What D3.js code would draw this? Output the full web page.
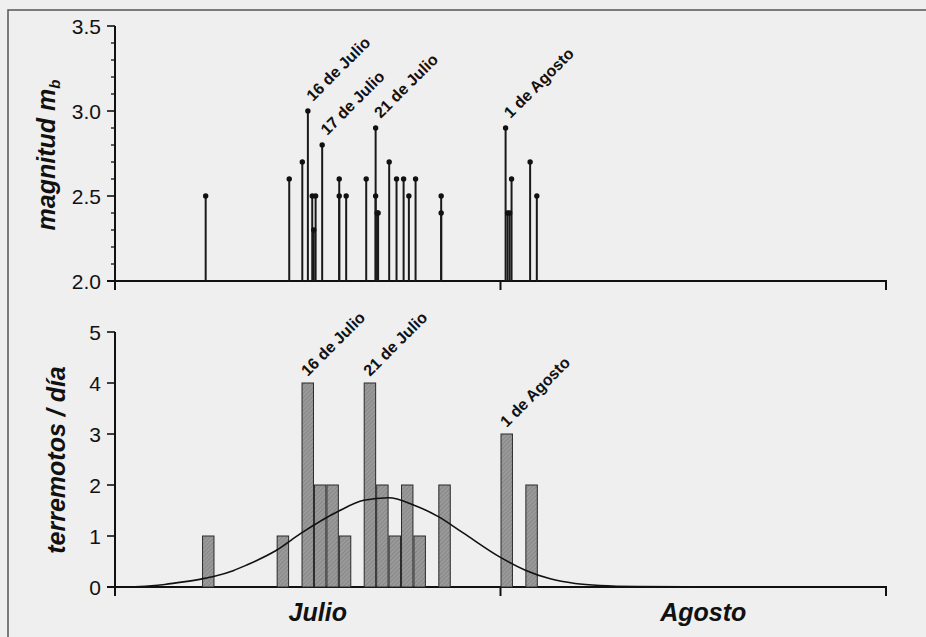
<!DOCTYPE html>
<html>
<head>
<meta charset="utf-8">
<script src="https://cdn.jsdelivr.net/npm/d3@7"></script>
<style>
  body { margin: 0; background: #efefef; }
  svg { display: block; font-family: "Liberation Sans", Arial, sans-serif; }
</style>
</head>
<body>
<div id="chart"></div>
<script>
// sismos 1993, julio-agosto
// top panel: each event (fecha y hora) with its magnitude mb
var eventTimes = [
  "1993-07-08 07:00", "1993-07-15 00:15", "1993-07-16 01:30", "1993-07-16 12:15",
  "1993-07-16 20:40", "1993-07-16 23:35", "1993-07-17 03:10", "1993-07-17 15:50",
  "1993-07-19 00:45", "1993-07-19 00:45", "1993-07-19 14:10", "1993-07-21 04:50",
  "1993-07-21 23:00", "1993-07-21 23:00", "1993-07-22 02:00", "1993-07-22 03:50",
  "1993-07-23 01:10", "1993-07-23 15:20", "1993-07-24 05:00", "1993-07-24 15:10",
  "1993-07-25 04:05", "1993-07-27 05:30", "1993-07-27 05:30", "1993-08-01 09:50",
  "1993-08-01 13:40", "1993-08-01 17:35", "1993-08-01 21:20", "1993-08-03 09:10",
  "1993-08-03 22:05"
];
var eventMags = [
  2.5, 2.6, 2.7, 3.0,
  2.5, 2.3, 2.5, 2.8,
  2.6, 2.5, 2.5, 2.6,
  2.9, 2.5, 2.4, 2.4,
  2.7, 2.6, 2.6, 2.5,
  2.6, 2.5, 2.4, 2.9,
  2.4, 2.4, 2.6, 2.7,
  2.5
];
// bottom panel: earthquakes per day
var barDays = ["1993-07-08", "1993-07-14", "1993-07-16", "1993-07-17", "1993-07-18", "1993-07-19",
  "1993-07-21", "1993-07-22", "1993-07-23", "1993-07-24", "1993-07-25", "1993-07-27",
  "1993-08-01", "1993-08-03"];
var barCounts = [1, 1, 4, 2, 2, 1, 4, 2, 1, 2, 1, 2, 3, 2];
// smooth fitted curve
var curveTimes = ["1993-07-01 00:00", "1993-07-03 00:00", "1993-07-05 00:00", "1993-07-06 12:00",
  "1993-07-08 00:00", "1993-07-09 00:00", "1993-07-10 12:00", "1993-07-11 14:00",
  "1993-07-13 22:00", "1993-07-16 00:00", "1993-07-19 00:00", "1993-07-21 00:00",
  "1993-07-23 00:00", "1993-07-25 00:00", "1993-07-27 00:00", "1993-07-29 00:00",
  "1993-08-01 00:00", "1993-08-03 00:00", "1993-08-05 00:00", "1993-08-07 00:00",
  "1993-08-09 00:00", "1993-08-12 00:00", "1993-08-20 00:00", "1993-09-01 00:00"];
var curveVals = [0.0, 0.01, 0.05, 0.10,
  0.16, 0.21, 0.32, 0.43,
  0.71, 1.06, 1.49, 1.70,
  1.75, 1.61, 1.38, 1.06,
  0.58, 0.33, 0.16, 0.07,
  0.03, 0.01, 0.0, 0.0];
var topLabels = ["16 de Julio", "17 de Julio", "21 de Julio", "1 de Agosto"];
var topLabelIdx = [3, 7, 12, 23];
var bottomLabels = ["16 de Julio", "21 de Julio", "1 de Agosto"];
var bottomLabelIdx = [2, 6, 12];
var monthNames = ["Julio", "Agosto"];
var monthStarts = ["1993-07-01", "1993-08-01", "1993-09-01"];

var parseTime = d3.timeParse("%Y-%m-%d %H:%M");
var parseDay = d3.timeParse("%Y-%m-%d");

var width = 926, height = 637;
var svg = d3.select("#chart").append("svg").attr("width", width).attr("height", height);

// page / frame
svg.append("rect").attr("width", width).attr("height", height).attr("fill", "#efefef");
svg.append("path").attr("d", "M8,637V10H926").attr("fill", "none").attr("stroke", "#555").attr("stroke-width", 1.5);

// hatch for the bars
var pat = svg.append("defs").append("pattern").attr("id", "hatch")
  .attr("patternUnits", "userSpaceOnUse").attr("width", 3).attr("height", 3)
  .attr("patternTransform", "rotate(45)");
pat.append("rect").attr("width", 3).attr("height", 3).attr("fill", "#9a9a9a");
pat.append("line").attr("x1", 0).attr("y1", 0).attr("x2", 0).attr("y2", 3).attr("stroke", "#747474").attr("stroke-width", 1);

var xScale = d3.scaleTime().domain([parseDay(monthStarts[0]), parseDay(monthStarts[2])]).range([115, 886]);
var yTop = d3.scaleLinear().domain([2, 3.5]).range([281, 26]);
var yBot = d3.scaleLinear().domain([0, 5]).range([587, 332]);

function drawAxes(yScale, majors, minors, fmt, base) {
  var g = svg.append("g").attr("class", "axes");
  // y axis line, runs a bit past the base
  g.append("line").attr("x1", 115).attr("x2", 115).attr("y1", yScale.range()[1]).attr("y2", base + 9)
    .attr("stroke", "#111").attr("stroke-width", 2);
  // x axis line, starts a bit left of the y axis
  g.append("line").attr("x1", 107).attr("x2", 887).attr("y1", base).attr("y2", base)
    .attr("stroke", "#111").attr("stroke-width", 2);
  minors.forEach(function(v){
    g.append("line").attr("x1", 111).attr("x2", 115).attr("y1", yScale(v)).attr("y2", yScale(v))
      .attr("stroke", "#111").attr("stroke-width", 1.3);
  });
  majors.forEach(function(v){
    g.append("line").attr("x1", 107).attr("x2", 115).attr("y1", yScale(v)).attr("y2", yScale(v))
      .attr("stroke", "#111").attr("stroke-width", 1.6);
    g.append("text").attr("x", 101).attr("y", yScale(v) + 7.5).attr("text-anchor", "end")
      .attr("font-size", 21).attr("fill", "#111").text(fmt(v));
  });
  // month ticks
  monthStarts.slice(1).forEach(function(m){
    var x = xScale(parseDay(m));
    g.append("line").attr("x1", x).attr("x2", x).attr("y1", base).attr("y2", base + 9)
      .attr("stroke", "#111").attr("stroke-width", 2);
  });
}

// ----- top panel: magnitudes
var minorTop = d3.range(2.1, 3.5, 0.1).filter(function(v){ return Math.abs(v*2 - Math.round(v*2)) > 0.01; });
drawAxes(yTop, [2.0, 2.5, 3.0, 3.5], minorTop, d3.format(".1f"), 281);

var events = eventTimes.map(function(t, i){ return {t: parseTime(t), m: eventMags[i]}; });
var stems = svg.append("g");
stems.selectAll("line").data(events).enter().append("line")
  .attr("x1", function(d){ return xScale(d.t); }).attr("x2", function(d){ return xScale(d.t); })
  .attr("y1", yTop(2)).attr("y2", function(d){ return yTop(d.m); })
  .attr("stroke", "#1a1a1a").attr("stroke-width", 2);
stems.selectAll("circle").data(events).enter().append("circle")
  .attr("cx", function(d){ return xScale(d.t); }).attr("cy", function(d){ return yTop(d.m); })
  .attr("r", 2.7).attr("fill", "#111");

svg.append("g").selectAll("text").data(topLabels).enter().append("text")
  .attr("transform", function(d, i){
    var e = events[topLabelIdx[i]];
    return "translate(" + (xScale(e.t) + 5) + "," + (yTop(e.m) - 9) + ") rotate(-45)";
  })
  .attr("font-size", 16).attr("font-weight", "bold").attr("fill", "#111").text(function(d){ return d; });

svg.append("text").attr("transform", "translate(55,155) rotate(-90)").attr("text-anchor", "middle")
  .attr("font-size", 25).attr("font-weight", "bold").attr("font-style", "italic").attr("fill", "#111")
  .text("magnitud m").append("tspan").attr("font-size", 15).attr("dy", 5).text("b");

// ----- bottom panel: earthquakes per day
drawAxes(yBot, [0, 1, 2, 3, 4, 5], [], d3.format("d"), 587);

var bars = barDays.map(function(d, i){ return {d: parseDay(d), n: barCounts[i]}; });
svg.append("g").selectAll("rect").data(bars).enter().append("rect")
  .attr("x", function(d){ return xScale(d.d) + 0.5; })
  .attr("width", function(d){ return xScale(d3.timeDay.offset(d.d, 1)) - xScale(d.d) - 1; })
  .attr("y", function(d){ return yBot(d.n); })
  .attr("height", function(d){ return yBot(0) - yBot(d.n); })
  .attr("fill", "url(#hatch)").attr("stroke", "#2a2a2a").attr("stroke-width", 1);

var curve = curveTimes.map(function(t, i){ return {t: parseTime(t), v: curveVals[i]}; });
var line = d3.line().x(function(d){ return xScale(d.t); }).y(function(d){ return yBot(d.v); })
  .curve(d3.curveMonotoneX);
svg.append("path").attr("d", line(curve)).attr("fill", "none").attr("stroke", "#111").attr("stroke-width", 1.6);

svg.append("g").selectAll("text").data(bottomLabels).enter().append("text")
  .attr("transform", function(d, i){
    var b = bars[bottomLabelIdx[i]];
    var cx = (xScale(b.d) + xScale(d3.timeDay.offset(b.d, 1))) / 2;
    return "translate(" + cx + "," + (yBot(b.n) - 6) + ") rotate(-45)";
  })
  .attr("font-size", 16).attr("font-weight", "bold").attr("fill", "#111").text(function(d){ return d; });

svg.append("text").attr("transform", "translate(65,460) rotate(-90)").attr("text-anchor", "middle")
  .attr("font-size", 25).attr("font-weight", "bold").attr("font-style", "italic").attr("fill", "#111")
  .text("terremotos / día");

// month names under the axis
svg.append("g").selectAll("text").data(monthNames).enter().append("text")
  .attr("x", function(d, i){
    return (xScale(parseDay(monthStarts[i])) + xScale(parseDay(monthStarts[i + 1]))) / 2 + 10;
  })
  .attr("y", 621).attr("text-anchor", "middle")
  .attr("font-size", 25).attr("font-weight", "bold").attr("font-style", "italic").attr("fill", "#111")
  .text(function(d){ return d; });
</script>
</body>
</html>
